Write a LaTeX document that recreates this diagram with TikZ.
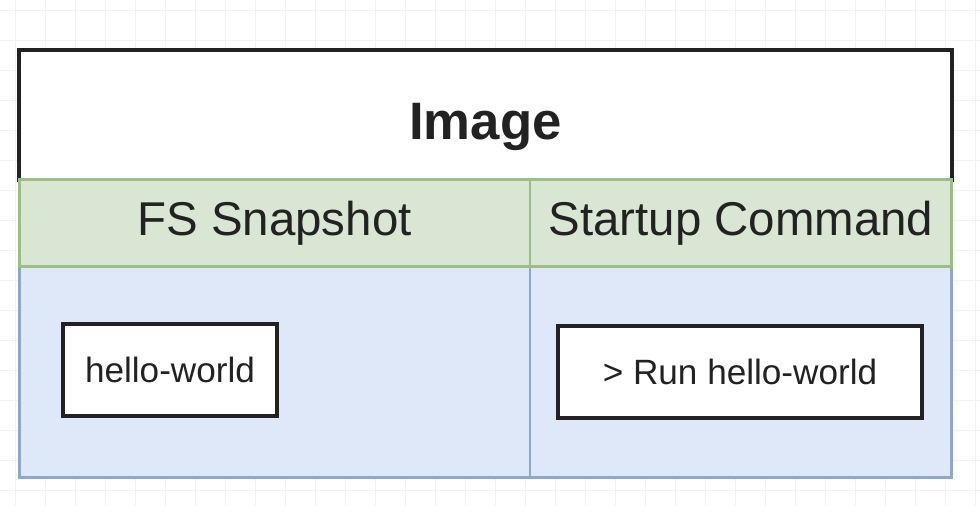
\documentclass[tikz,border=0pt]{standalone}
\usepackage{fontspec}
\setmainfont{Liberation Sans}
\usetikzlibrary{positioning}
\definecolor{gridgray}{HTML}{F2F2F2}
\definecolor{cellgreen}{HTML}{D9E6D3}
\definecolor{edgegreen}{HTML}{9CBD86}
\definecolor{cellblue}{HTML}{DFE8F8}
\definecolor{edgeblue}{HTML}{8FA7CD}
\definecolor{inkgray}{HTML}{222222}
\tikzset{
    headbox/.style={draw=inkgray, line width=2.2pt, fill=white, inner sep=0pt, outer sep=0pt,
        minimum width=18.66cm, minimum height=2.6cm, font=\fontsize{30}{34}\selectfont\bfseries, text=inkgray},
    titlecell/.style={draw=edgegreen, line width=1.7pt, fill=cellgreen, inner sep=0pt, outer sep=0pt,
        minimum height=1.74cm, font=\fontsize{27}{31}\selectfont, text=inkgray},
    bodycell/.style={draw=edgeblue, line width=1.7pt, fill=cellblue, inner sep=0pt, outer sep=0pt,
        minimum height=4.22cm},
    itembox/.style={draw=inkgray, line width=2pt, fill=white, inner sep=0pt,
        minimum height=1.84cm, font=\fontsize{20}{24}\selectfont, text=inkgray}
}
\begin{document}
\begin{tikzpicture}[x=0.02cm, y=-0.02cm]
    \useasboundingbox (0,0) rectangle (980,506);
    % faint canvas grid
    \foreach \gx in {15,45,...,975} \draw[gridgray, line width=0.5pt] (\gx,0) -- (\gx,506);
    \foreach \gy in {10,40,...,500} \draw[gridgray, line width=0.5pt] (0,\gy) -- (980,\gy);

    \node[headbox] (image) at (485.5,115) {\raisebox{-0.1em}[0.72em][0pt]{Image}};
    \node[bodycell, minimum width=10.22cm, below right=1.74cm and 0pt of image.south west] (fsbody) {};
    \node[bodycell, minimum width=8.44cm, right=0pt of fsbody] (cmdbody) {};
    \node[titlecell, minimum width=10.22cm, below right=0pt and 0pt of image.south west] (fs) {FS Snapshot};
    \node[titlecell, minimum width=8.44cm, right=0pt of fs] (cmd) {Startup Command};

    \node[itembox, minimum width=4.28cm] (hello) at (170,370) {hello-world};
    \node[itembox, minimum width=7.28cm] (run) at (740,372) {> Run hello-world};
\end{tikzpicture}
\end{document}
